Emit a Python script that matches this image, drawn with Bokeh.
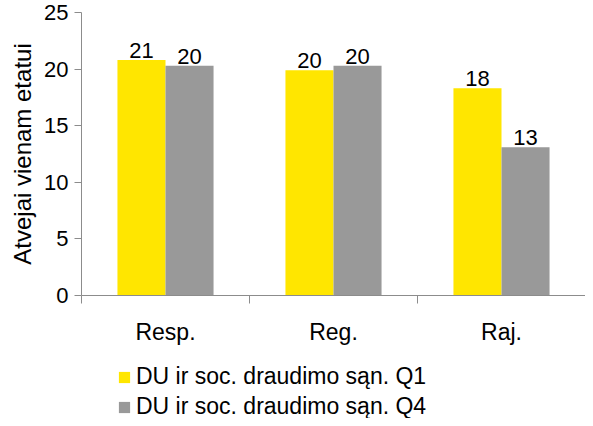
from bokeh.plotting import figure
from bokeh.models import Range1d, FixedTicker, Legend, LegendItem, ColumnDataSource, LabelSet
from bokeh.layouts import column
from bokeh.core.properties import value
from bokeh.embed import file_html
from bokeh.resources import INLINE

categories = ["Resp.", "Reg.", "Raj."]
series_names = ["DU ir soc. draudimo sąn. Q1", "DU ir soc. draudimo sąn. Q4"]
q1_values = [20.8, 19.9, 18.3]
q4_values = [20.3, 20.3, 13.1]
y_ticks = [0, 5, 10, 15, 20, 25]

FONT = "Liberation Sans"
YELLOW = "#FFE600"
GRAY = "#999999"
AXIS = "#8c8c8c"

p = figure(width=585, height=360, output_backend="svg", toolbar_location=None,
           x_range=Range1d(0, len(categories)), y_range=Range1d(0, 25),
           min_border_left=81, min_border_right=0, min_border_top=12, min_border_bottom=65)
p.outline_line_color = None
p.grid.visible = False

centers = [i + 0.5 for i in range(len(categories))]
bw = 0.286
x1 = [c - bw / 2 for c in centers]
x2 = [c + bw / 2 for c in centers]

s1 = ColumnDataSource(dict(x=x1, top=q1_values, lab=[str(round(v)) for v in q1_values]))
s2 = ColumnDataSource(dict(x=x2, top=q4_values, lab=[str(round(v)) for v in q4_values]))
r1 = p.vbar(x="x", top="top", width=bw, bottom=0, source=s1, fill_color=YELLOW, line_color=None)
r2 = p.vbar(x="x", top="top", width=bw, bottom=0, source=s2, fill_color=GRAY, line_color=None)

for s in (s1, s2):
    p.add_layout(LabelSet(x="x", y="top", text="lab", source=s, text_align="center",
                          text_baseline="alphabetic", y_offset=2, text_font=value(FONT),
                          text_font_size=value("22px"), text_color="#000000"))

# x axis
xa = p.xaxis[0]
xa.ticker = FixedTicker(ticks=centers, minor_ticks=[0, 1, 2, 3])
xa.major_label_overrides = {c: n for c, n in zip(centers, categories)}
xa.major_tick_line_color = None
xa.major_tick_out = 6
xa.minor_tick_out = 8
xa.minor_tick_in = 0
xa.minor_tick_line_color = AXIS
xa.axis_line_color = AXIS
xa.major_label_text_font = FONT
xa.major_label_text_font_size = "23px"
xa.major_label_text_color = "#000000"
xa.major_label_standoff = 15

ya = p.yaxis[0]
ya.ticker = FixedTicker(ticks=y_ticks)
ya.minor_tick_line_color = None
ya.major_tick_out = 7
ya.major_tick_in = 0
ya.major_tick_line_color = AXIS
ya.axis_line_color = AXIS
ya.major_label_text_font = FONT
ya.major_label_text_font_size = "22px"
ya.major_label_text_color = "#000000"
ya.major_label_standoff = 6
ya.axis_label = "Atvejai vienam etatui"
ya.axis_label_text_font = FONT
ya.axis_label_text_font_size = "24px"
ya.axis_label_text_font_style = "normal"
ya.axis_label_text_color = "#000000"
ya.axis_label_standoff = 5

# legend panel below the chart (legend swatches use the series colours)
lf = figure(width=585, height=58, output_backend="svg", toolbar_location=None,
            x_range=Range1d(0, 585), y_range=Range1d(0, 58),
            x_axis_location=None, y_axis_location=None,
            min_border_left=0, min_border_right=0, min_border_top=0, min_border_bottom=0)
lf.grid.visible = False
lf.outline_line_color = None
e1 = lf.vbar(x=[-1000], top=[0], width=1, fill_color=YELLOW, line_color=None)
e2 = lf.vbar(x=[-1000], top=[0], width=1, fill_color=GRAY, line_color=None)

legend = Legend(items=[LegendItem(label=series_names[0], renderers=[e1]),
                       LegendItem(label=series_names[1], renderers=[e2])],
                location=(36, -2), orientation="vertical",
                label_text_font=FONT, label_text_font_size="23px", label_text_color="#000000",
                glyph_width=14, glyph_height=14, label_standoff=5, spacing=3,
                label_height=22, padding=0, margin=0, border_line_color=None,
                background_fill_alpha=0)
lf.add_layout(legend, "center")

layout = column(p, lf, spacing=0)
open("out.html", "w").write(file_html(layout, INLINE))
